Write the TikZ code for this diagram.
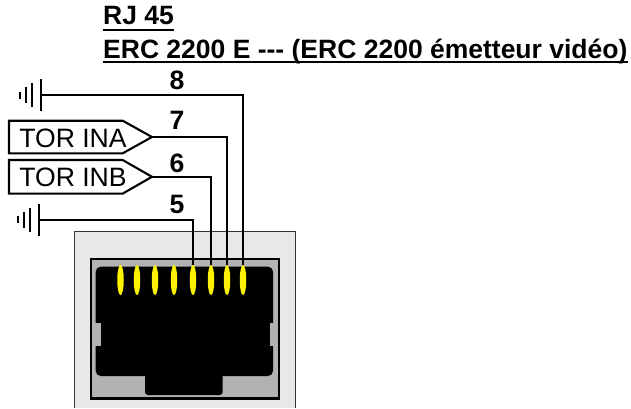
\documentclass[tikz,border=0pt]{standalone}
\usepackage{fontspec}
\setmainfont{Liberation Sans}
\usetikzlibrary{shapes.geometric}
\tikzset{
  wire/.style={draw=black,line width=2.1pt},
  outl/.style={draw=black,line width=2.1pt,line join=miter},
  num/.style={font=\fontsize{26.6}{26.6}\selectfont\bfseries,inner sep=0pt},
  ttl/.style={font=\fontsize{26.5}{26.5}\selectfont\bfseries,inner sep=0pt,anchor=base west},
  lab/.style={font=\fontsize{26.6}{26.6}\selectfont,inner sep=0pt},
  uline/.style={draw=black,line width=2.2pt},
  pin/.style={ellipse,fill=yellow,draw=none,minimum width=6.5pt,minimum height=30pt,inner sep=0pt}
}
\begin{document}
\begin{tikzpicture}[x=1pt,y=-1pt]
\useasboundingbox (0,0) rectangle (631,408);
% titles
\node[ttl] (t1) at (103,24.5) {RJ 45};
\node[ttl] (t2) at (103,58.5) {ERC 2200 E -{}-{}- (ERC 2200 émetteur vidéo)};
\draw[uline] ([yshift=-5.5]t1.base west) -- ([yshift=-5.5]t1.base east);
\draw[uline] ([yshift=-3.8]t2.base west) -- ([yshift=-3.8]t2.base east);
% jack
\fill[fill=black!9] (74,408) -- (74,231) -- (295,231) -- (295,408) -- cycle;
\draw[line width=0.8pt,draw=black!80] (74,408) -- (74,231) -- (295,231) -- (295,408);
\draw[line width=2.1pt,fill=black!30] (91,259) rectangle (279,398.5);
\fill[black,rounded corners=5pt] (95.7,266.7) rectangle (273,376);
\fill[black,rounded corners=3pt] (145,370) rectangle (222.7,395);
\fill[black!30] (93,323) rectangle (101,346);
\fill[black!30] (270,323) rectangle (278,346);
% pins
\foreach \n/\x in {a/120.5,b/137,c/155,d/174,e/193,f/211,g/227,h/243}
  \node[pin] (p\n) at (\x,280) {};
% wires
\coordinate (g8) at (41,95);
\coordinate (g5) at (39,219.7);
\draw[wire] (g8) -| (ph.north);
\draw[wire] (g5) -| (pe.north);
% ground symbols
\foreach \c in {g8,g5}{
  \draw[line width=2.6pt] ([yshift=-16]\c) -- ([yshift=16]\c);
  \draw[line width=2.2pt] ([xshift=-9,yshift=-12]\c) -- ([xshift=-9,yshift=12]\c);
  \draw[line width=2.2pt] ([xshift=-15,yshift=-8]\c) -- ([xshift=-15,yshift=8]\c);
  \draw[line width=2.6pt] ([xshift=-21,yshift=-3.5]\c) -- ([xshift=-21,yshift=3.5]\c);
}
% TOR tags
\draw[outl] (9,120.7) -- (122.7,120.7) -- (152,137) coordinate (ina) -- (122.7,153.3) -- (9,153.3) -- cycle;
\node[lab] (na) at (73,138.5) {TOR INA};
\draw[outl] (9,160) -- (122.7,160) -- (152,176.8) coordinate (inb) -- (122.7,193.6) -- (9,193.6) -- cycle;
\node[lab] (nb) at (73,177) {TOR INB};
\draw[wire] (ina) -| (pg.north);
\draw[wire] (inb) -| (pf.north);
% numbers
\node[num] (n8) at (177,80.5) {8};
\node[num] (n7) at (177,120.5) {7};
\node[num] (n6) at (177,163) {6};
\node[num] (n5) at (177,204.5) {5};
\end{tikzpicture}
\end{document}
